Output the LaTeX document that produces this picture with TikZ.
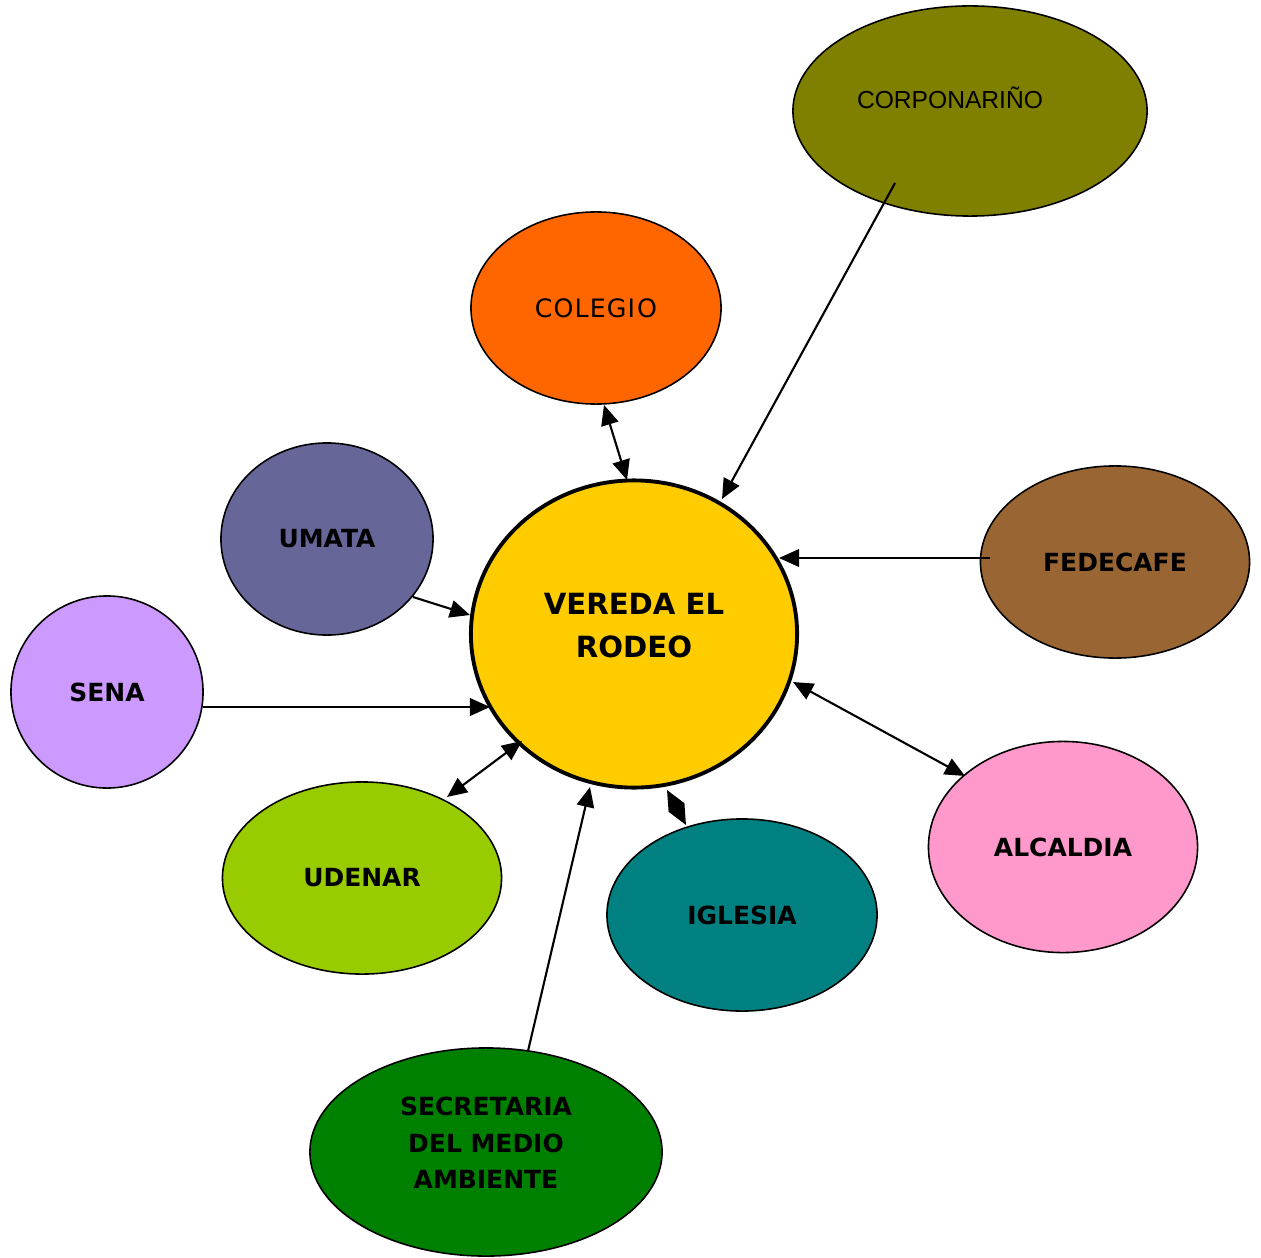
\documentclass[tikz,border=0pt]{standalone}
\usepackage{fontspec}
\setmainfont{DejaVu Sans}
\newfontfamily\arialf{Liberation Sans}
\usetikzlibrary{shapes.geometric,arrows.meta,calc}
\definecolor{cYel}{HTML}{FFCC00}
\definecolor{cOra}{HTML}{FF6600}
\definecolor{cOli}{HTML}{808000}
\definecolor{cUma}{HTML}{666699}
\definecolor{cFed}{HTML}{996633}
\definecolor{cSen}{HTML}{CC99FF}
\definecolor{cUde}{HTML}{99CC00}
\definecolor{cIgl}{HTML}{008080}
\definecolor{cAlc}{HTML}{FF99CC}
\definecolor{cSec}{HTML}{008000}
\begin{document}
\begin{tikzpicture}[x=0.01cm,y=-0.01cm,
  blob/.style={ellipse,draw=black,line width=0.45pt,inner sep=0pt},
  tipx/.tip={Triangle[length=0.2cm,width=0.175cm]},
  conn/.style={line width=0.6pt,-tipx},
  both/.style={line width=0.6pt,tipx-tipx},
  bt/.style={font=\bfseries\fontsize{7.1}{10.4}\selectfont,align=center,text=black},
]
\useasboundingbox (0,0) rectangle (1261,1258);

\node[blob,line width=1.1pt,fill=cYel,minimum width=3.26cm,minimum height=3.07cm,
  label={[bt,font=\bfseries\fontsize{8.3}{12.2}\selectfont,yshift=0.08cm]center:VEREDA EL\\RODEO}] (ctr) at (634,634) {};
\node[blob,fill=cOra,minimum width=2.50cm,minimum height=1.92cm,
  font=\fontsize{7.2}{9}\selectfont] (col) at (596,308) {C\kern0.3pt O\kern0.3pt L\kern0.3pt E\kern0.3pt G\kern0.3pt I\kern0.6pt O};
\node[blob,fill=cOli,minimum width=3.54cm,minimum height=2.10cm,
  label={[font=\arialf\fontsize{7}{9}\selectfont,xshift=-0.20cm,yshift=0.13cm]center:CORPONARIÑO}] (corp) at (970,111) {};
\node[blob,fill=cUma,minimum width=2.12cm,minimum height=1.92cm,bt] (uma) at (327,539) {UMATA};
\node[blob,fill=cFed,minimum width=2.69cm,minimum height=1.92cm,bt] (fed) at (1115,562) {FEDECAFE};
\node[blob,fill=cSen,minimum width=1.92cm,minimum height=1.92cm,bt] (sena) at (107,692) {SENA};
\node[blob,fill=cUde,minimum width=2.79cm,minimum height=1.92cm,bt] (ude) at (362,878) {UDENAR};
\node[blob,fill=cIgl,minimum width=2.70cm,minimum height=1.92cm,bt] (igl) at (742,915) {IGLESIA};
\node[blob,fill=cAlc,minimum width=2.69cm,minimum height=2.11cm,bt] (alc) at (1063,847) {ALCALDIA};
\node[blob,fill=cSec,minimum width=3.52cm,minimum height=2.08cm,
  label={[bt,yshift=0.09cm]center:SECRETARIA\\DEL MEDIO\\AMBIENTE}] (sec) at (486,1152) {};

\draw[conn] ($(corp)+(-75,72)$) -- ($(ctr)+(88,-135)$);
\draw[both] ($(col)+(8,97)$) -- ($(ctr)+(-7,-154)$);
\draw[conn] ($(fed)+(-125,-4)$) -- ($(ctr)+(145,-76)$);
\draw[conn] ($(uma)+(86,58)$) -- ($(ctr)+(-164,-19)$);
\draw[conn] ($(sena)+(96,15)$) -- ($(ctr)+(-144,73)$);
\draw[both] ($(ude)+(85,-81)$) -- ($(ctr)+(-112,107)$);
\draw[conn] ($(sec)+(42,-101)$) -- ($(ctr)+(-44,153)$);
\draw[both] ($(ctr)+(33,156)$) -- ($(igl)+(-56,-90)$);
\draw[both] ($(ctr)+(159,48)$) -- ($(alc)+(-98,-71)$);
\end{tikzpicture}
\end{document}
